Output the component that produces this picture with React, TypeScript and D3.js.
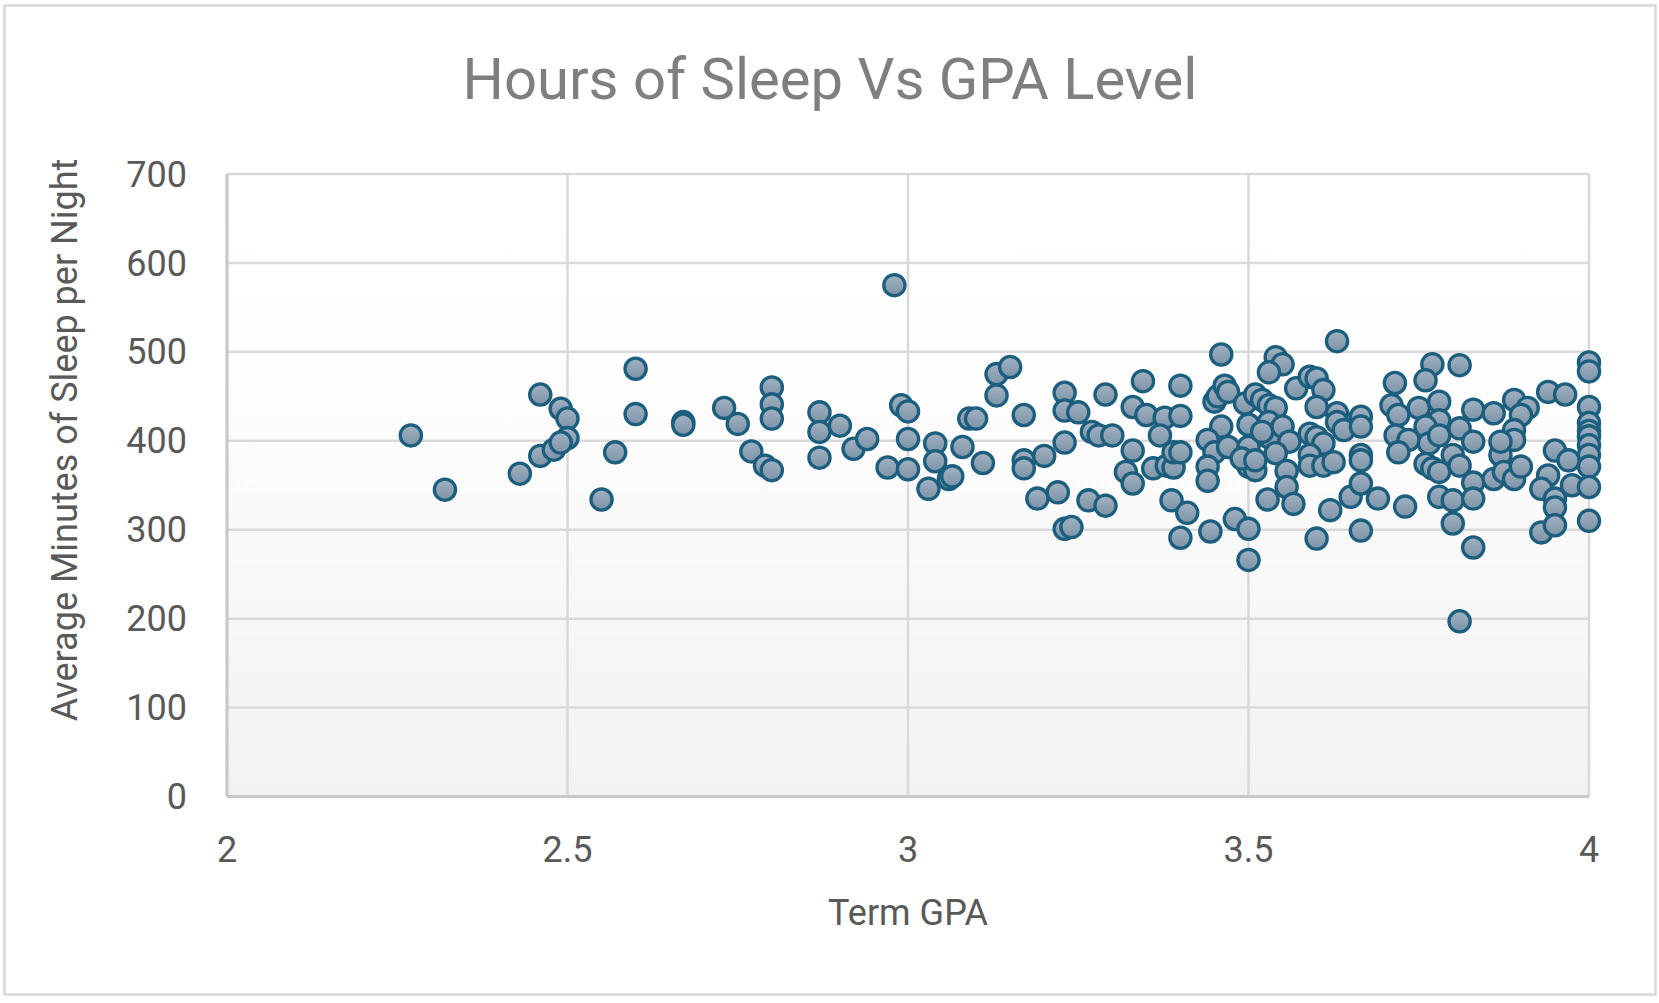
import * as d3 from "d3";

// Term GPA of each student
const gpa: number[] = [
  2.27, 2.32, 2.43, 2.46, 2.46, 2.48, 2.49, 2.5, 2.5, 2.49, 2.55, 2.57, 2.6, 2.6, 2.67, 2.67,
  2.98, 2.73, 2.75, 2.8, 2.8, 2.8, 2.77, 2.79, 2.8, 2.87, 2.87, 2.87, 2.9, 2.92, 2.94, 2.97,
  2.99, 3.0, 3.0, 3.0, 3.04, 3.04, 3.03, 3.06, 3.065, 3.08, 3.09, 3.1, 3.11, 3.13, 3.13, 3.15,
  3.17, 3.17, 3.17, 3.2, 3.19, 3.22, 3.23, 3.24, 3.23, 3.23, 3.23, 3.25, 3.27, 3.28, 3.3, 3.265,
  3.29, 3.29,
  3.63, 3.46, 3.54, 3.55, 3.53, 3.345, 3.4, 3.33, 3.35, 3.377, 3.4, 3.37, 3.33, 3.32, 3.33, 3.36,
  3.38, 3.39, 3.39, 3.4, 3.387, 3.41, 3.4, 3.444, 3.48, 3.5, 3.5, 3.45, 3.455, 3.465, 3.47, 3.495,
  3.51, 3.52, 3.53, 3.54, 3.46, 3.44, 3.45, 3.44, 3.44, 3.47, 3.5, 3.5, 3.5, 3.51, 3.53, 3.53,
  3.55, 3.56, 3.54, 3.556, 3.556, 3.528, 3.566, 3.57, 3.59, 3.6, 3.61, 3.6, 3.63, 3.63, 3.59, 3.6,
  3.61, 3.59, 3.59, 3.61, 3.625, 3.62, 3.6, 3.65, 3.64, 3.49, 3.51, 3.52,
  3.665, 3.665, 3.665, 3.665, 3.665, 3.69, 3.665, 3.715, 3.71, 3.72, 3.716, 3.735, 3.72, 3.73,
  3.77, 3.76, 3.81, 3.75, 3.78, 3.78, 3.76, 3.765, 3.78, 3.76, 3.77, 3.78, 3.78, 3.8, 3.8, 3.83,
  3.81, 3.81, 3.8, 3.81, 3.83, 3.83, 3.86, 3.83, 3.83, 3.86, 3.87, 3.875, 3.89, 3.89, 3.91, 3.9,
  3.89, 3.89, 3.9, 3.87, 3.94, 3.965, 3.95, 3.94, 3.93, 3.95, 3.95, 3.93, 3.95, 3.97, 3.975,
  4.0, 4.0, 4.0, 4.0, 4.0, 4.0, 4.0, 4.0, 4.0, 4.0, 4.0,
];

// Average minutes of sleep per night, same order as gpa
const minutes: number[] = [
  406, 345, 363, 452, 383, 390, 436, 425, 403, 398, 334, 387, 481, 430, 421, 418,
  575, 437, 419, 460, 441, 425, 388, 372, 367, 432, 410, 381, 417, 391, 402, 370,
  440, 433, 402, 368, 397, 377, 346, 357, 360, 393, 425, 425, 375, 451, 475, 483,
  429, 378, 369, 383, 335, 342, 301, 303, 398, 454, 434, 432, 410, 406, 406, 333,
  452, 327,
  512, 497, 494, 486, 477, 467, 462, 438, 429, 426, 428, 406, 389, 365, 352, 369,
  372, 370, 387, 387, 333, 319, 291, 298, 312, 301, 266, 444, 450, 462, 455, 442,
  452, 446, 440, 437, 416, 401, 387, 371, 355, 393, 418, 393, 371, 367, 421, 404,
  416, 399, 386, 366, 348, 334, 329, 459, 472, 470, 457, 438, 431, 421, 408, 404,
  397, 384, 372, 372, 376, 322, 290, 337, 412, 380, 378, 410,
  427, 416, 384, 378, 352, 335, 299, 465, 440, 429, 406, 401, 387, 326,
  486, 468, 485, 437, 444, 423, 416, 397, 406, 374, 369, 365, 337, 333, 307, 280,
  197, 414, 384, 372, 399, 435, 431, 353, 335, 357, 384, 365, 357, 446, 437, 429,
  412, 401, 371, 399, 455, 452, 389, 361, 346, 335, 325, 297, 305, 378, 350,
  488, 478, 438, 420, 411, 405, 395, 384, 371, 348, 310,
];

const xTicks = [2, 2.5, 3, 3.5, 4];
const yTicks = [0, 100, 200, 300, 400, 500, 600, 700];

const title = "Hours of Sleep Vs GPA Level";
const xTitle = "Term GPA";
const yTitle = "Average Minutes of Sleep per Night";

const width = 1659;
const height = 1003;
const plotLeft = 227;
const plotRight = 1589;
const plotTop = 174;
const plotBottom = 796.5;
const font = "Roboto, 'Liberation Sans', sans-serif";

export default function App() {
  const x = d3.scaleLinear().domain([2, 4]).range([plotLeft, plotRight]);
  const y = d3.scaleLinear().domain([0, 700]).range([plotBottom, plotTop]);
  const points = gpa.map((g, i) => ({ g, m: minutes[i] }));

  return (
    <svg
      width={width}
      height={height}
      style={{ position: "absolute", left: 0, top: 0, background: "#fff" }}
    >
      <defs>
        <linearGradient id="plotBg" x1="0" y1="0" x2="0" y2="1">
          <stop offset="0" stopColor="#ffffff" />
          <stop offset="0.3" stopColor="#fefefe" />
          <stop offset="1" stopColor="#f2f2f2" />
        </linearGradient>
        <linearGradient id="dot" x1="0" y1="0" x2="0" y2="1">
          <stop offset="0" stopColor="#a2b2c2" />
          <stop offset="1" stopColor="#7c93a7" />
        </linearGradient>
      </defs>

      <rect x={4.5} y={5.5} width={1651} height={989} fill="#fff" stroke="#d9d9d9" strokeWidth={2.5} />

      <text x={830} y={99} textAnchor="middle" fontFamily={font} fontSize={58} fill="#7f7f7f">
        {title}
      </text>

      <rect
        x={plotLeft}
        y={plotTop}
        width={plotRight - plotLeft}
        height={plotBottom - plotTop}
        fill="url(#plotBg)"
      />

      {yTicks.map((t) => (
        <line key={"gy" + t} x1={plotLeft} x2={plotRight} y1={y(t)} y2={y(t)} stroke="#d9d9d9" strokeWidth={2.5} />
      ))}
      {xTicks.map((t) => (
        <line key={"gx" + t} x1={x(t)} x2={x(t)} y1={plotTop} y2={plotBottom} stroke="#d9d9d9" strokeWidth={2.5} />
      ))}
      <line x1={plotLeft} x2={plotLeft} y1={plotTop} y2={plotBottom} stroke="#c8c8c8" strokeWidth={3} />
      <line x1={plotLeft} x2={plotRight} y1={plotBottom} y2={plotBottom} stroke="#c8c8c8" strokeWidth={3} />

      <g fontFamily={font} fontSize={36} fill="#595959">
        {yTicks.map((t) => (
          <text key={"ty" + t} x={187} y={y(t)} dy="0.35em" textAnchor="end">
            {t}
          </text>
        ))}
        {xTicks.map((t) => (
          <text key={"tx" + t} x={x(t)} y={862} textAnchor="middle">
            {t}
          </text>
        ))}
        <text x={(plotLeft + plotRight) / 2} y={925} textAnchor="middle">
          {xTitle}
        </text>
        <text transform="translate(77,440) rotate(-90)" textAnchor="middle">
          {yTitle}
        </text>
      </g>

      <g fill="url(#dot)" stroke="#1b5e7e" strokeWidth={3.3}>
        {points.map((p, i) => (
          <circle key={i} cx={x(p.g)} cy={y(p.m)} r={10.6} />
        ))}
      </g>
    </svg>
  );
}
